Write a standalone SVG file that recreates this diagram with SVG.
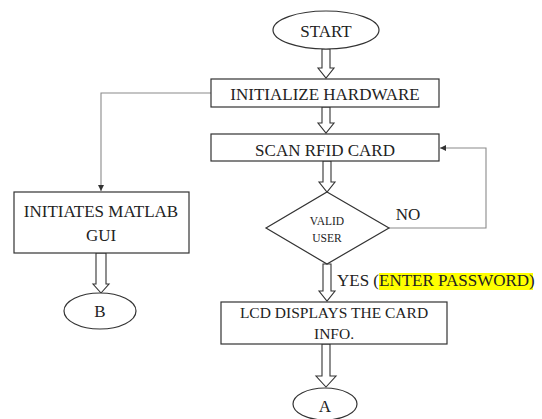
<svg xmlns="http://www.w3.org/2000/svg" width="542" height="419" viewBox="0 0 542 419">
  <defs>
    <style>
      .box { fill: #ffffff; stroke: #333333; stroke-width: 1.2; }
      .lbl { font-family: "Liberation Serif", "Times New Roman", serif; font-size: 17px; fill: #222222; text-anchor: middle; }
      .small { font-size: 11.5px; }
      .flow { fill: #ffffff; stroke: #333333; stroke-width: 1.1; stroke-linejoin: miter; }
      .wire { fill: none; stroke: #8a8a8a; stroke-width: 1.1; }
    </style>
    <marker id="tip" viewBox="0 0 10 10" refX="10" refY="5" markerWidth="6" markerHeight="6" orient="auto" markerUnits="userSpaceOnUse">
      <path d="M0,0 L10,5 L0,10 z" fill="#333333"/>
    </marker>
  </defs>

  <rect width="542" height="419" fill="#ffffff"/>

  <!-- connectors -->
  <g id="connectors">
    <!-- hollow block arrows along the main flow -->
    <polygon class="flow" points="322,49 330,49 330,68 334,68 326,78 318,68 322,68"/>
    <polygon class="flow" points="322,107 330,107 330,123 334,123 326,133 318,123 322,123"/>
    <polygon class="flow" points="323,161 331,161 331,182 335,182 327,192 319,182 323,182"/>
    <polygon class="flow" points="323,264 331,264 331,291 335,291 327,301 319,291 323,291"/>
    <polygon class="flow" points="322,344 330,344 330,376 336,376 326,387 316,376 322,376"/>
    <polygon class="flow" points="96,253 106,253 106,284 109,284 101,293 93,284 96,284"/>
    <!-- side links -->
    <polyline class="wire" points="211,93 101,93 101,191" marker-end="url(#tip)"/>
    <polyline class="wire" points="389,228 486,228 486,148 440,148" marker-end="url(#tip)"/>
    <text class="lbl" x="408" y="220">NO</text>
    <rect x="379" y="273" width="154" height="17" fill="#ffff00"/>
    <text class="lbl" x="337" y="286" style="text-anchor:start">YES (<tspan>ENTER PASSWORD</tspan>)</text>
  </g>

  <g id="start">
    <ellipse class="box" cx="326" cy="30" rx="53" ry="19"/>
    <text class="lbl" x="326" y="37">START</text>
  </g>

  <g id="init-hw">
    <rect class="box" x="211" y="79" width="228" height="28"/>
    <text class="lbl" x="325" y="100">INITIALIZE HARDWARE</text>
  </g>

  <g id="scan-rfid">
    <rect class="box" x="211" y="134" width="228" height="27"/>
    <text class="lbl" x="325" y="156">SCAN RFID CARD</text>
  </g>

  <g id="valid-user">
    <polygon class="box" points="327,192 389,228 327,264 266,228"/>
    <text class="lbl small" x="327" y="225">VALID</text>
    <text class="lbl small" x="327" y="242">USER</text>
  </g>

  <g id="lcd-info">
    <rect class="box" x="221" y="302" width="226" height="42"/>
    <text class="lbl" x="334" y="318" style="font-size:15.5px">LCD DISPLAYS THE CARD</text>
    <text class="lbl" x="334" y="339" style="font-size:15.5px">INFO.</text>
  </g>

  <g id="conn-a">
    <ellipse class="box" cx="325" cy="404" rx="32" ry="16"/>
    <text class="lbl" x="325" y="412">A</text>
  </g>

  <g id="matlab-gui">
    <rect class="box" x="14" y="192" width="175" height="61"/>
    <text class="lbl" x="101" y="217">INITIATES MATLAB</text>
    <text class="lbl" x="101" y="241">GUI</text>
  </g>

  <g id="conn-b">
    <ellipse class="box" cx="100" cy="311" rx="36" ry="18"/>
    <text class="lbl" x="100" y="317">B</text>
  </g>
</svg>
